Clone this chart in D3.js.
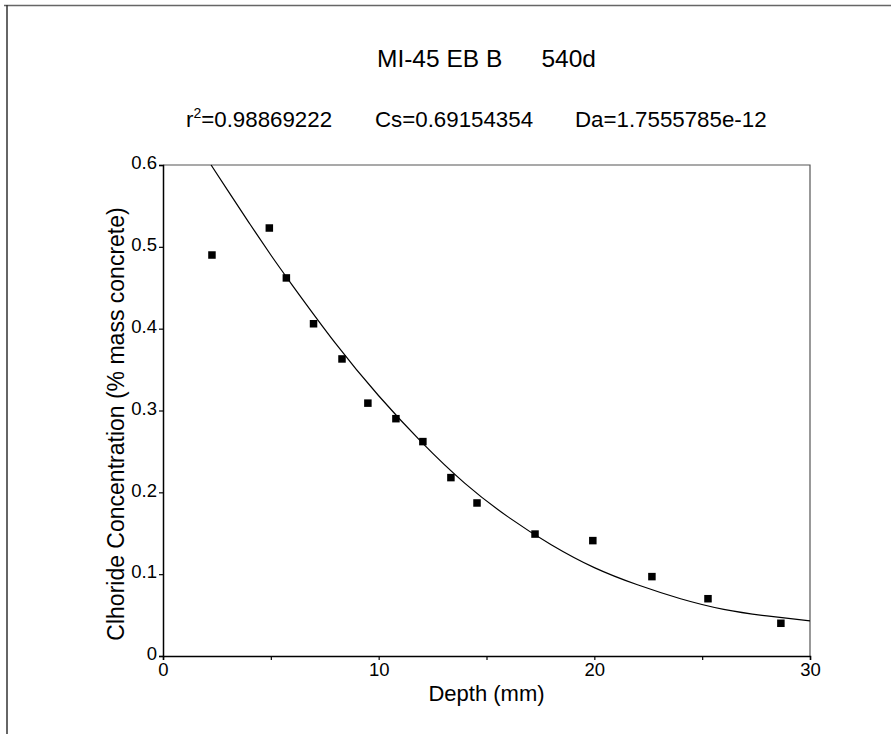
<!DOCTYPE html>
<html>
<head>
<meta charset="utf-8">
<script src="https://cdn.jsdelivr.net/npm/d3@7"></script>
<style>
  body { margin: 0; background: #fff; }
  svg { display: block; }
  text { font-family: "Liberation Sans", Arial, sans-serif; fill: #000; }
</style>
</head>
<body>
<script>
var w = 891,
    h = 734;

// measured chloride profile
var depth = [2.27, 4.93, 5.72, 6.98, 8.30, 9.50, 10.80, 12.05, 13.35, 14.56, 17.25, 19.93, 22.67, 25.27, 28.65];
var chloride = [0.490, 0.523, 0.462, 0.406, 0.363, 0.309, 0.290, 0.262, 0.218, 0.187, 0.149, 0.141, 0.097, 0.070, 0.040];

// fitted curve
var fitDepth = [2.23, 3, 4, 5, 6, 8, 10, 12, 14, 16, 18, 20, 22, 24, 26, 28, 30];
var fitConc = [0.600, 0.569, 0.529, 0.490, 0.453, 0.382, 0.318, 0.261, 0.211, 0.170, 0.136, 0.108, 0.087, 0.070, 0.057, 0.049, 0.043];

var xTicks = [0, 5, 10, 15, 20, 25, 30];
var yTicks = [0, 0.1, 0.2, 0.3, 0.4, 0.5, 0.6];

var title = ["MI-45 EB B", "540d"];
var stats = ["0.98869222", "Cs=0.69154354", "Da=1.7555785e-12"];

var margin = {left: 163, right: 81, top: 165, bottom: 78};

var svg = d3.select("body").append("svg")
  .attr("width", w)
  .attr("height", h);

// outer frame (only top and left edges visible)
svg.append("line").attr("x1", 4).attr("x2", w).attr("y1", 5.5).attr("y2", 5.5)
  .attr("stroke", "#666").attr("stroke-width", 1.5);
svg.append("line").attr("x1", 7).attr("x2", 7).attr("y1", 5).attr("y2", h)
  .attr("stroke", "#333").attr("stroke-width", 1.5);

var x = d3.scaleLinear().domain([0, 30]).range([margin.left, w - margin.right]);
var y = d3.scaleLinear().domain([0, 0.6]).range([h - margin.bottom, margin.top]);

// plot box top + right
svg.append("path")
  .attr("d", "M" + x(0) + "," + y(0.6) + "H" + x(30) + "V" + y(0))
  .attr("fill", "none").attr("stroke", "#555").attr("stroke-width", 1.2);

var xAxis = d3.axisBottom(x).tickValues(xTicks).tickSize(4).tickPadding(3)
  .tickFormat(function(d) { return d % 10 === 0 ? d : ""; });
var gx = svg.append("g").attr("transform", "translate(0," + y(0) + ")").call(xAxis);

var yAxis = d3.axisLeft(y).tickValues(yTicks).tickSize(4).tickPadding(2)
  .tickFormat(function(d) { return d === 0 ? "0" : d3.format(".1f")(d); });
var gy = svg.append("g").attr("transform", "translate(" + x(0) + ",0)").call(yAxis);

[gx, gy].forEach(function(g) {
  g.select(".domain").attr("stroke", "#000").attr("stroke-width", 1.5);
  g.selectAll(".tick line").attr("stroke", "#000").attr("stroke-width", 1.2);
  g.selectAll(".tick text").attr("font-size", "18.5px")
    .attr("font-family", "Liberation Sans, Arial, sans-serif").attr("fill", "#000");
});
gx.selectAll(".tick text").attr("dy", "0.72em");
gy.selectAll(".tick text").attr("dy", "0.2em");

// fitted line
var line = d3.line()
  .x(function(d) { return x(d[0]); })
  .y(function(d) { return y(d[1]); })
  .curve(d3.curveNatural);

svg.append("path")
  .datum(d3.zip(fitDepth, fitConc))
  .attr("d", line)
  .attr("fill", "none")
  .attr("stroke", "#000")
  .attr("stroke-width", 1.2);

// measured points
var sq = 7.5;
svg.selectAll("rect.pt").data(d3.zip(depth, chloride))
  .enter().append("rect")
  .attr("class", "pt")
  .attr("x", function(d) { return x(d[0]) - sq / 2; })
  .attr("y", function(d) { return y(d[1]) - sq / 2; })
  .attr("width", sq)
  .attr("height", sq)
  .attr("fill", "#000");

// titles
svg.append("text").attr("x", 377).attr("y", 67).attr("font-size", "24.5px").text(title[0]);
svg.append("text").attr("x", 596).attr("y", 67).attr("font-size", "24.5px")
  .attr("text-anchor", "end").text(title[1]);

var st = svg.append("text").attr("x", 186).attr("y", 127).attr("font-size", "22.3px");
st.append("tspan").text("r");
st.append("tspan").attr("dy", -9).attr("font-size", "14px").text("2");
st.append("tspan").attr("dy", 9).text("=" + stats[0]);
svg.append("text").attr("x", 375).attr("y", 127).attr("font-size", "22.3px").text(stats[1]);
svg.append("text").attr("x", 575).attr("y", 127).attr("font-size", "22.3px").text(stats[2]);

// axis titles
svg.append("text")
  .attr("x", (x(0) + x(30)) / 2).attr("y", 701)
  .attr("text-anchor", "middle").attr("font-size", "22px")
  .text("Depth (mm)");

svg.append("text")
  .attr("transform", "translate(124,424) rotate(-90)")
  .attr("text-anchor", "middle").attr("font-size", "23px")
  .text("Clhoride Concentration (% mass concrete)");
</script>
</body>
</html>
